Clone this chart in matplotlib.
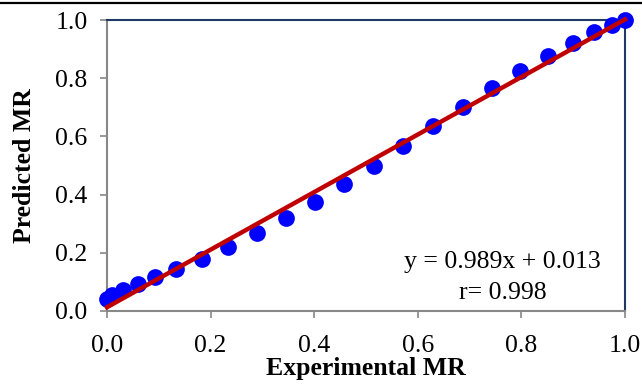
import matplotlib
matplotlib.use("Agg")
import matplotlib.pyplot as plt
from matplotlib.lines import Line2D
import numpy as np

plt.rcParams['font.family'] = ['Liberation Serif', 'DejaVu Serif']

experimental = [0.000, 0.009, 0.030, 0.059, 0.093, 0.134, 0.183, 0.234, 0.289, 0.345,
                0.402, 0.458, 0.516, 0.572, 0.630, 0.688, 0.744, 0.798, 0.851, 0.900,
                0.941, 0.974, 1.000]
predicted = [0.040, 0.055, 0.072, 0.093, 0.116, 0.144, 0.179, 0.221, 0.267, 0.318,
             0.376, 0.435, 0.499, 0.568, 0.636, 0.702, 0.765, 0.825, 0.876, 0.920,
             0.958, 0.983, 1.000]
slope = 0.989
intercept = 0.013
r_value = 0.998
ticks = [0.0, 0.2, 0.4, 0.6, 0.8, 1.0]

fig = plt.figure(figsize=(6.42, 3.87), dpi=100)
ax = fig.add_axes([0.1667, 0.1964, 0.9735 - 0.1667, 0.9483 - 0.1964])

ax.scatter(experimental, predicted, s=145, color='#0000FF', zorder=3, linewidths=0,
           clip_on=False)
xl = np.array([0.0, 1.0])
ax.plot(xl, slope * xl + intercept, color='#C00000', lw=3.2, zorder=4, clip_on=False)

ax.set_xlim(0, 1)
ax.set_ylim(0, 1)
ax.set_xticks(ticks)
ax.set_yticks(ticks)
ax.set_xticklabels([f"{t:.1f}" for t in ticks])
ax.set_yticklabels([f"{t:.1f}" for t in ticks])
ax.tick_params(axis='both', direction='out', length=5, width=1.2, color='#888888',
               labelsize=18.5)
ax.tick_params(axis='x', pad=12)
ax.tick_params(axis='y', pad=9)

for s in ['left', 'bottom']:
    ax.spines[s].set_color('#888888')
    ax.spines[s].set_linewidth(1.5)
for s in ['top', 'right']:
    ax.spines[s].set_color('#1F3864')
    ax.spines[s].set_linewidth(1.5)

ax.set_xlabel('Experimental MR', fontsize=18.5, fontweight='bold', labelpad=0)
ax.set_ylabel('Predicted MR', fontsize=18.5, fontweight='bold', labelpad=14)

ax.text(0.764, 0.168, f"y = {slope}x + {intercept}", fontsize=18.5, ha='center', va='center',
        transform=ax.transAxes)
ax.text(0.764, 0.062, f"r= {r_value}", fontsize=18.5, ha='center', va='center',
        transform=ax.transAxes)

fig.add_artist(Line2D([0, 1], [1 - 2.5 / 387, 1 - 2.5 / 387], color='black', lw=1.6,
                      transform=fig.transFigure))

fig.savefig('out.png', dpi=100)
